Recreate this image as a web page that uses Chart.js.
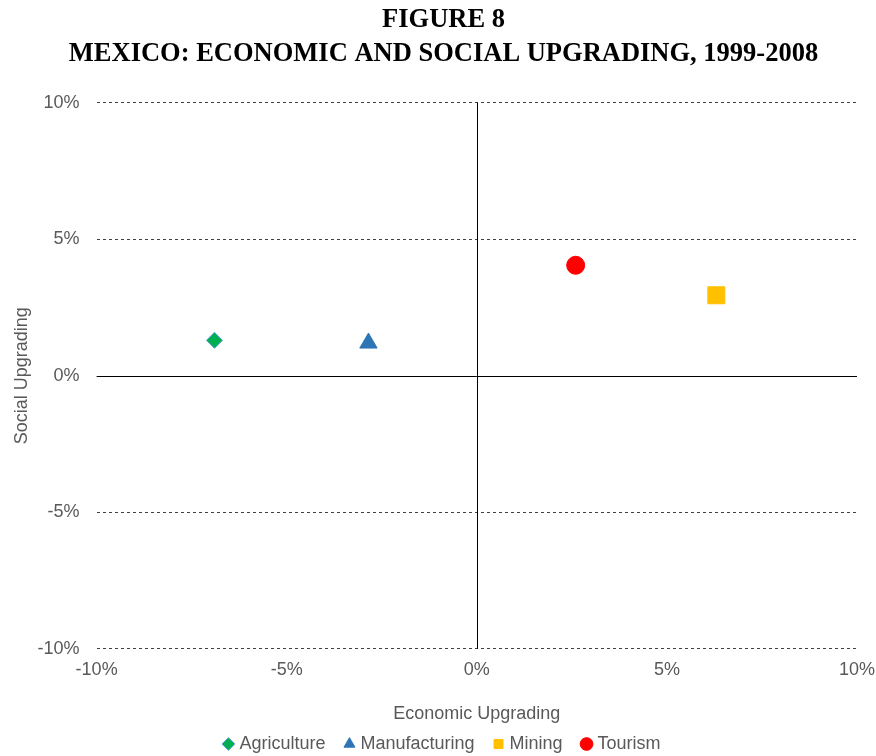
<!DOCTYPE html>
<html>
<head>
<meta charset="utf-8">
<script src="https://cdn.jsdelivr.net/npm/chart.js@4/dist/chart.umd.min.js"></script>
<style>
  html, body { margin: 0; padding: 0; background: #fff; }
  #wrap { width: 876px; height: 756px; position: relative; }
</style>
</head>
<body>
<div id="wrap"><canvas id="scatterChart"></canvas></div>
<script>
// data (percent)
const sectors = ['Agriculture', 'Manufacturing', 'Mining', 'Tourism'];
const economicUpgrading = [-6.9, -2.85, 6.3, 2.6];
const socialUpgrading = [1.3, 1.2, 2.95, 4.05];
const axisTicks = [-10, -5, 0, 5, 10];

const markerStyle = ['rectRot', 'triangle', 'rect', 'circle'];
const markerFill = ['#00B050', '#2E75B6', '#FFC000', '#FF0000'];
const markerBorder = ['#5B9BD5', '#2E75B6', '#FFC000', '#FF0000'];
const markerRadius = [8, 10, 12, 9];

const grey = '#595959';
const sans = "'Liberation Sans', Arial, sans-serif";

// solid black lines through the origin
const zeroLines = {
    id: 'zeroLines',
    beforeDatasetsDraw(chart) {
        const { ctx, chartArea, scales } = chart;
        const x0 = Math.round(scales.x.getPixelForValue(0)) + 0.5;
        const y0 = Math.round(scales.y.getPixelForValue(0)) + 0.5;
        ctx.save();
        ctx.strokeStyle = '#000';
        ctx.lineWidth = 1;
        ctx.beginPath();
        ctx.moveTo(x0, chartArea.top);
        ctx.lineTo(x0, chartArea.bottom);
        ctx.moveTo(chartArea.left, y0);
        ctx.lineTo(chartArea.right, y0);
        ctx.stroke();
        ctx.restore();
    }
};

document.addEventListener('DOMContentLoaded', () => {
    const canvas = document.getElementById('scatterChart');

    const datasets = sectors.map((name, i) => ({
        label: name,
        data: [{ x: economicUpgrading[i], y: socialUpgrading[i] }],
        pointStyle: markerStyle[i],
        backgroundColor: markerFill[i],
        borderColor: markerBorder[i],
        borderWidth: 1,
        pointRadius: markerRadius[i],
        pointHoverRadius: markerRadius[i]
    }));

    new Chart(canvas, {
        type: 'scatter',
        data: { datasets: datasets },
        plugins: [zeroLines],
        options: {
            responsive: true,
            maintainAspectRatio: false,
            animation: false,
            layout: { padding: { left: 11, right: 0, top: 0, bottom: -7 } },
            plugins: {
                title: {
                    display: true,
                    text: ['FIGURE 8', 'MEXICO: ECONOMIC AND SOCIAL UPGRADING, 1999-2008'],
                    color: '#000',
                    font: { family: "'Liberation Serif', 'Times New Roman', serif", size: 26.5, weight: 'bold', lineHeight: 1.28 },
                    padding: { top: 3, bottom: 32 }
                },
                legend: {
                    position: 'bottom',
                    labels: {
                        usePointStyle: true,
                        boxWidth: 4,
                        boxHeight: 9,
                        padding: 22,
                        color: grey,
                        font: { family: sans, size: 18 }
                    }
                },
                tooltip: { enabled: false }
            },
            scales: {
                x: {
                    type: 'linear',
                    min: axisTicks[0],
                    max: axisTicks[axisTicks.length - 1],
                    afterBuildTicks: (axis) => { axis.ticks = axisTicks.map(v => ({ value: v })); },
                    afterFit: (axis) => { axis.paddingRight = 19; },
                    grid: { display: false, drawTicks: false },
                    border: { display: false },
                    ticks: {
                        color: grey,
                        font: { family: sans, size: 18 },
                        padding: 10,
                        callback: (v) => v + '%'
                    },
                    title: {
                        display: true,
                        text: 'Economic Upgrading',
                        color: grey,
                        font: { family: sans, size: 18 },
                        padding: { top: 13, bottom: -12 }
                    }
                },
                y: {
                    type: 'linear',
                    min: axisTicks[0],
                    max: axisTicks[axisTicks.length - 1],
                    afterBuildTicks: (axis) => { axis.ticks = axisTicks.map(v => ({ value: v })); },
                    grid: {
                        color: (ctx) => ctx.tick && ctx.tick.value === 0 ? 'rgba(0,0,0,0)' : '#404040',
                        lineWidth: 1,
                        drawTicks: false
                    },
                    border: { display: false, dash: [3, 3] },
                    ticks: {
                        color: grey,
                        font: { family: sans, size: 18 },
                        padding: 17,
                        callback: (v) => v + '%'
                    },
                    title: {
                        display: true,
                        text: 'Social Upgrading',
                        color: grey,
                        font: { family: sans, size: 18 },
                        padding: { top: 0, bottom: -12 }
                    }
                }
            }
        }
    });
});
</script>
</body>
</html>
